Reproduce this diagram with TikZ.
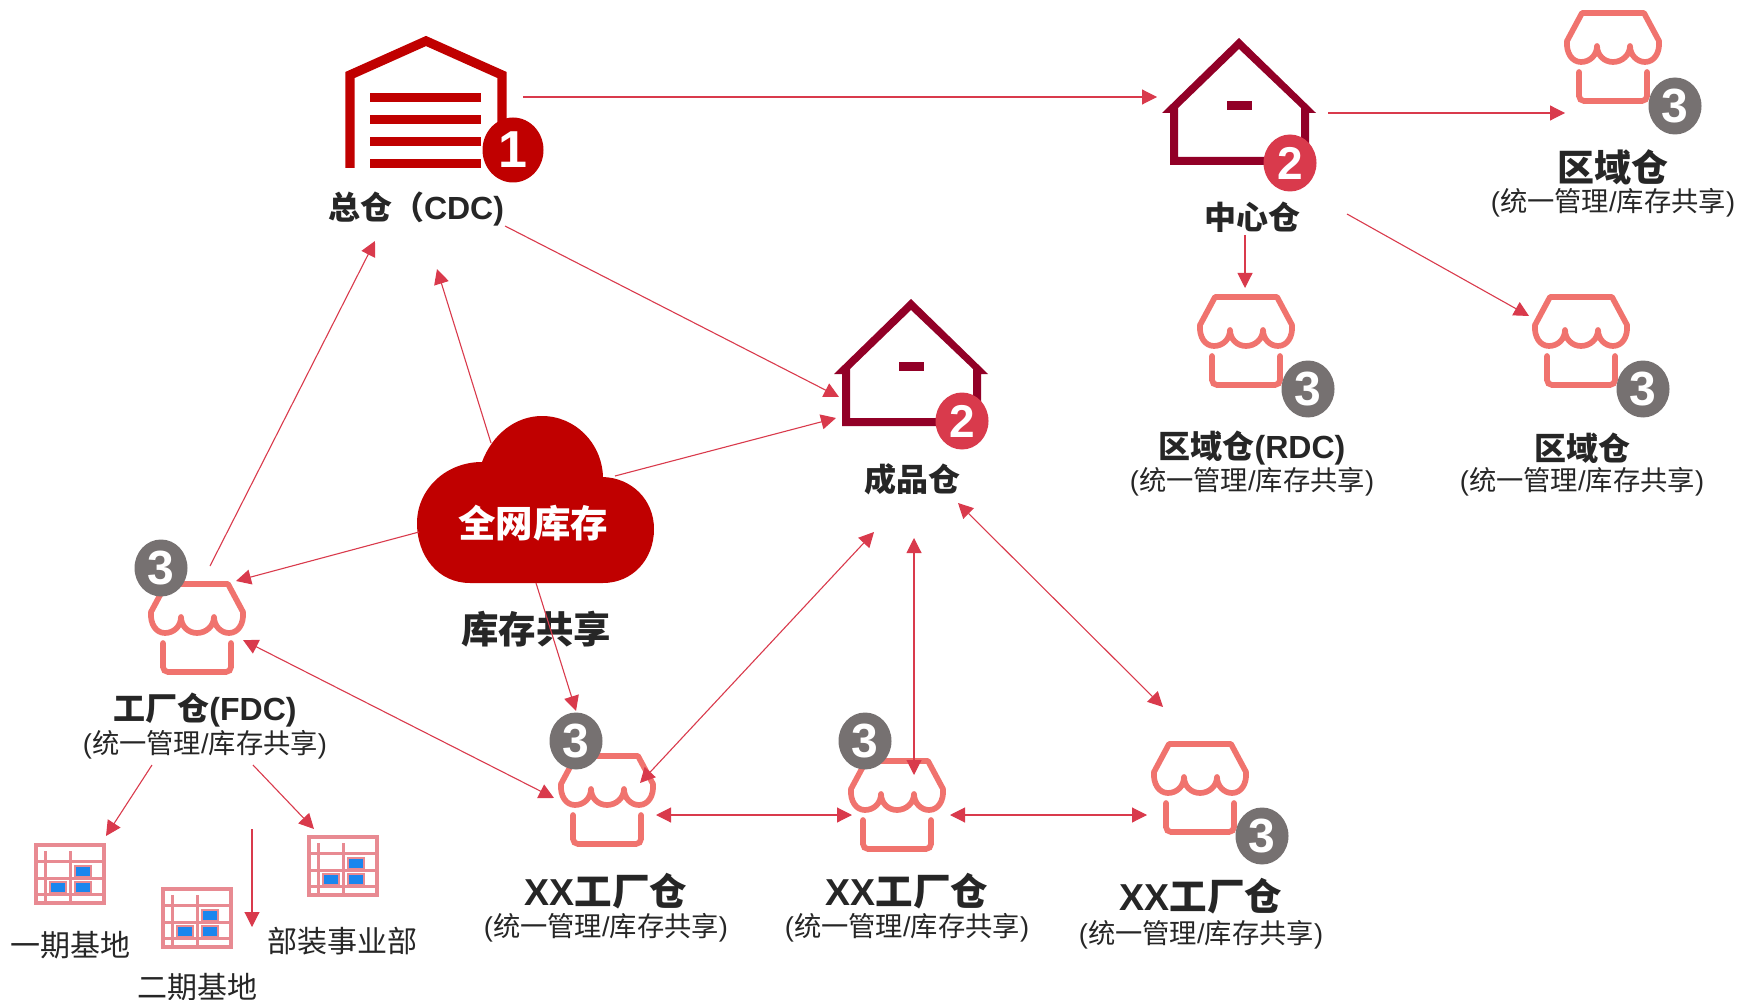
\documentclass[tikz,border=0pt]{standalone}
\usepackage{fontspec}
\setmainfont{Liberation Sans}
\newfontfamily\cjk{Noto Sans CJK SC}
\usetikzlibrary{shapes.geometric,arrows.meta}

\definecolor{cdcred}{HTML}{C00000}
\definecolor{housered}{HTML}{920027}
\definecolor{badgered}{HTML}{D93A4C}
\definecolor{linkred}{HTML}{D93A4C}
\definecolor{shopred}{HTML}{F0736E}
\definecolor{badgegrey}{HTML}{767171}
\definecolor{gridpink}{HTML}{E88A92}
\definecolor{gridblue}{HTML}{1A86EE}
\definecolor{labelgrey}{HTML}{262626}

\tikzset{
    link/.style={linkred, line width=1.1pt, -{Triangle[length=15pt,width=15pt]}},
    linkboth/.style={link, {Triangle[length=15pt,width=15pt]}-{Triangle[length=15pt,width=15pt]}},
    badge/.style={ellipse, fill=#1, text=white, inner sep=0pt, minimum width=53pt, minimum height=57pt, font=\fontsize{48}{48}\selectfont\bfseries},
    title/.style={text=labelgrey, inner sep=0pt, font=\fontsize{32}{32}\selectfont\bfseries\cjk},
    bigname/.style={text=labelgrey, inner sep=0pt, font=\fontsize{37.5}{37.5}\selectfont\bfseries\cjk},
    subtitle/.style={text=labelgrey, inner sep=0pt, font=\fontsize{27.3}{27.3}\selectfont\cjk},
    basename/.style={text=labelgrey, inner sep=0pt, font=\fontsize{30}{30}\selectfont\cjk},
    pics/shopicon/.style={code={
        \draw[shopred, line width=5.7pt, line join=round]
            (-31,0) -- (31,0) -- (46,28)
            .. controls (47,40) and (41,49) .. (32,49)
            .. controls (24,49) and (17,42) .. (17,33)
            .. controls (17,42) and (9,49) .. (0,49)
            .. controls (-9,49) and (-16,42) .. (-16,33)
            .. controls (-16,42) and (-23,49) .. (-32,49)
            .. controls (-41,49) and (-47,40) .. (-46,28) -- cycle;
        \draw[shopred, line width=5.7pt, line cap=round, rounded corners=5pt]
            (-34,59) -- (-34,88) -- (34,88) -- (34,59);
    }},
    pics/houseicon/.style={code={
        \fill[housered, even odd rule]
            (0,0) -- (77,75) -- (70,75) -- (70,127) -- (-69,127) -- (-69,75) -- (-77,75) -- cycle
            (0,11) -- (62,70) -- (62,119) -- (-61,119) -- (-61,70) -- cycle;
        \fill[housered] (-12,63) rectangle (13,72);
    }},
    pics/gridicon/.style={code={
        \draw[gridpink, line width=3.5pt] (2,2) rectangle (70,60);
        \draw[gridpink, line width=3pt] (11,8) -- (11,60) (36,8) -- (36,60);
        \draw[gridpink, line width=3pt] (2,18) -- (70,18) (2,35) -- (70,35) (2,51) -- (70,51);
        \filldraw[fill=gridblue, draw=gridpink, line width=2.5pt] (16,39) rectangle (32,50);
        \filldraw[fill=gridblue, draw=gridpink, line width=2.5pt] (41,23) rectangle (57,34);
        \filldraw[fill=gridblue, draw=gridpink, line width=2.5pt] (41,39) rectangle (57,50);
    }},
}

\begin{document}
\begin{tikzpicture}[x=1pt, y=-1pt]
    \useasboundingbox (0,0) rectangle (1737,1000);

    % warehouse at the top
    \draw[cdcred, line width=9.3pt] (350,168) -- (350,75) -- (426,41) -- (502,75) -- (502,130);
    \fill[cdcred] (370,92.8) rectangle (481,101.8);
    \fill[cdcred] (370,114.8) rectangle (481,123.8);
    \fill[cdcred] (370,136.8) rectangle (481,145.8);
    \fill[cdcred] (370,158.8) rectangle (481,167.8);
    \node[badge=cdcred, minimum width=61pt, minimum height=65pt, font=\fontsize{52}{52}\selectfont\bfseries] (badgeone) at (513,150) {1};
    \node[title] (cdclabel) at (416,209) {总仓（\fontspec{Liberation Sans}CDC)};

    % houses
    \pic at (1239,38) {houseicon};
    \node[badge=badgered, font=\fontsize{46}{46}\selectfont\bfseries] (badgecenter) at (1290,163) {2};
    \node[title] (centerlabel) at (1252,217) {中心仓};
    \pic at (911,299) {houseicon};
    \node[badge=badgered, font=\fontsize{46}{46}\selectfont\bfseries] (badgefinish) at (962,421) {2};
    \node[title] (finishlabel) at (912,479) {成品仓};

    % regional shops
    \pic at (1613,13) {shopicon};
    \node[badge=badgegrey] (badgeareaa) at (1675,106) {3};
    \node[title, font=\fontsize{37}{37}\selectfont\bfseries\cjk] (areaalabel) at (1613,167) {区域仓};
    \node[subtitle] (areaasub) at (1613,203) {\fontspec{Liberation Sans}({\cjk 统一管理}/{\cjk 库存共享})};

    \pic at (1246,297) {shopicon};
    \node[badge=badgegrey] (badgerdc) at (1308,389) {3};
    \node[title] (rdclabel) at (1252,448) {区域仓\fontspec{Liberation Sans}(RDC)};
    \node[subtitle] (rdcsub) at (1252,482) {\fontspec{Liberation Sans}({\cjk 统一管理}/{\cjk 库存共享})};

    \pic at (1581,297) {shopicon};
    \node[badge=badgegrey] (badgeareab) at (1643,389) {3};
    \node[title] (areablabel) at (1582,448) {区域仓};
    \node[subtitle] (areabsub) at (1582,482) {\fontspec{Liberation Sans}({\cjk 统一管理}/{\cjk 库存共享})};

    % cloud
    \fill[cdcred] (470,583) .. controls (438,583) and (417,556) .. (417,523)
        .. controls (417,490) and (445,462) .. (482,462)
        .. controls (492,435) and (515,416) .. (542,416)
        .. controls (575,416) and (602,443) .. (603,477)
        .. controls (632,478) and (654,500) .. (654,529)
        .. controls (654,560) and (632,583) .. (603,583) -- cycle;
    \node[bigname, text=white] (cloudlabel) at (533,523) {全网库存};
    \node[bigname] (sharelabel) at (536,629) {库存共享};

    % factory shops
    \pic at (197,584) {shopicon};
    \node[badge=badgegrey] (badgefdc) at (161,568) {3};
    \node[title] (fdclabel) at (205,710) {工厂仓\fontspec{Liberation Sans}(FDC)};
    \node[subtitle] (fdcsub) at (205,745) {\fontspec{Liberation Sans}({\cjk 统一管理}/{\cjk 库存共享})};

    \pic at (607,756) {shopicon};
    \node[badge=badgegrey] (badgexxa) at (576,741) {3};
    \node[bigname] (xxalabel) at (606,891) {\fontspec{Liberation Sans}XX{\cjk 工厂仓}};
    \node[subtitle] (xxasub) at (606,928) {\fontspec{Liberation Sans}({\cjk 统一管理}/{\cjk 库存共享})};

    \pic at (897,761) {shopicon};
    \node[badge=badgegrey] (badgexxb) at (865,741) {3};
    \node[bigname] (xxblabel) at (907,891) {\fontspec{Liberation Sans}XX{\cjk 工厂仓}};
    \node[subtitle] (xxbsub) at (907,928) {\fontspec{Liberation Sans}({\cjk 统一管理}/{\cjk 库存共享})};

    \pic at (1200,744) {shopicon};
    \node[badge=badgegrey] (badgexxc) at (1262,836) {3};
    \node[bigname] (xxclabel) at (1201,896) {\fontspec{Liberation Sans}XX{\cjk 工厂仓}};
    \node[subtitle] (xxcsub) at (1201,935) {\fontspec{Liberation Sans}({\cjk 统一管理}/{\cjk 库存共享})};

    % bases
    \pic at (34,843) {gridicon};
    \node[basename] (baseone) at (70,945) {一期基地};
    \pic at (161,887) {gridicon};
    \node[basename] (basetwo) at (197,987) {二期基地};
    \pic at (307,835) {gridicon};
    \node[basename] (basedept) at (342,941) {部装事业部};

    % connector ends
    \coordinate (cdcE) at (523,97);
    \coordinate (centerW) at (1157,97);
    \coordinate (centerE) at (1328,113);
    \coordinate (areaaW) at (1565,113);
    \coordinate (centerS) at (1245,235);
    \coordinate (rdcN) at (1245,288);
    \coordinate (centerSE) at (1347,214);
    \coordinate (areabNW) at (1529,316);
    \coordinate (cdcSE) at (505,226);
    \coordinate (finishNW) at (839,397);
    \coordinate (cloudN) at (491,443);
    \coordinate (cdcS) at (437,269);
    \coordinate (cloudE) at (615,476);
    \coordinate (finishW) at (836,418);
    \coordinate (cloudW) at (419,532);
    \coordinate (fdcNE) at (236,581);
    \coordinate (fdcN) at (210,566);
    \coordinate (cdcSW) at (375,241);
    \coordinate (cloudS) at (536,583);
    \coordinate (xxaN) at (576,711);
    \coordinate (fdcE) at (243,640);
    \coordinate (xxaW) at (554,798);
    \coordinate (xxaNE) at (640,783);
    \coordinate (finishSW) at (874,532);
    \coordinate (finishS) at (914,538);
    \coordinate (xxbN) at (914,775);
    \coordinate (finishSE) at (958,503);
    \coordinate (xxcNW) at (1163,707);
    \coordinate (xxaE) at (656,815);
    \coordinate (xxbW) at (852,815);
    \coordinate (xxbE) at (950,815);
    \coordinate (xxcW) at (1147,815);
    \coordinate (fdcSW) at (152,765);
    \coordinate (baseoneN) at (106,836);
    \coordinate (fdcS) at (252,829);
    \coordinate (basetwoE) at (252,927);
    \coordinate (fdcSE) at (253,765);
    \coordinate (basedeptN) at (314,829);

    % connectors
    \draw[link] (cdcE) -- (centerW);
    \draw[link] (centerE) -- (areaaW);
    \draw[link] (centerS) -- (rdcN);
    \draw[link] (centerSE) -- (areabNW);
    \draw[link] (cdcSE) -- (finishNW);
    \draw[link] (cloudN) -- (cdcS);
    \draw[link] (cloudE) -- (finishW);
    \draw[link] (cloudW) -- (fdcNE);
    \draw[link] (fdcN) -- (cdcSW);
    \draw[link] (cloudS) -- (xxaN);
    \draw[linkboth] (fdcE) -- (xxaW);
    \draw[linkboth] (xxaNE) -- (finishSW);
    \draw[linkboth] (finishS) -- (xxbN);
    \draw[linkboth] (finishSE) -- (xxcNW);
    \draw[linkboth] (xxaE) -- (xxbW);
    \draw[linkboth] (xxbE) -- (xxcW);
    \draw[link] (fdcSW) -- (baseoneN);
    \draw[link] (fdcS) -- (basetwoE);
    \draw[link] (fdcSE) -- (basedeptN);
\end{tikzpicture}
\end{document}
